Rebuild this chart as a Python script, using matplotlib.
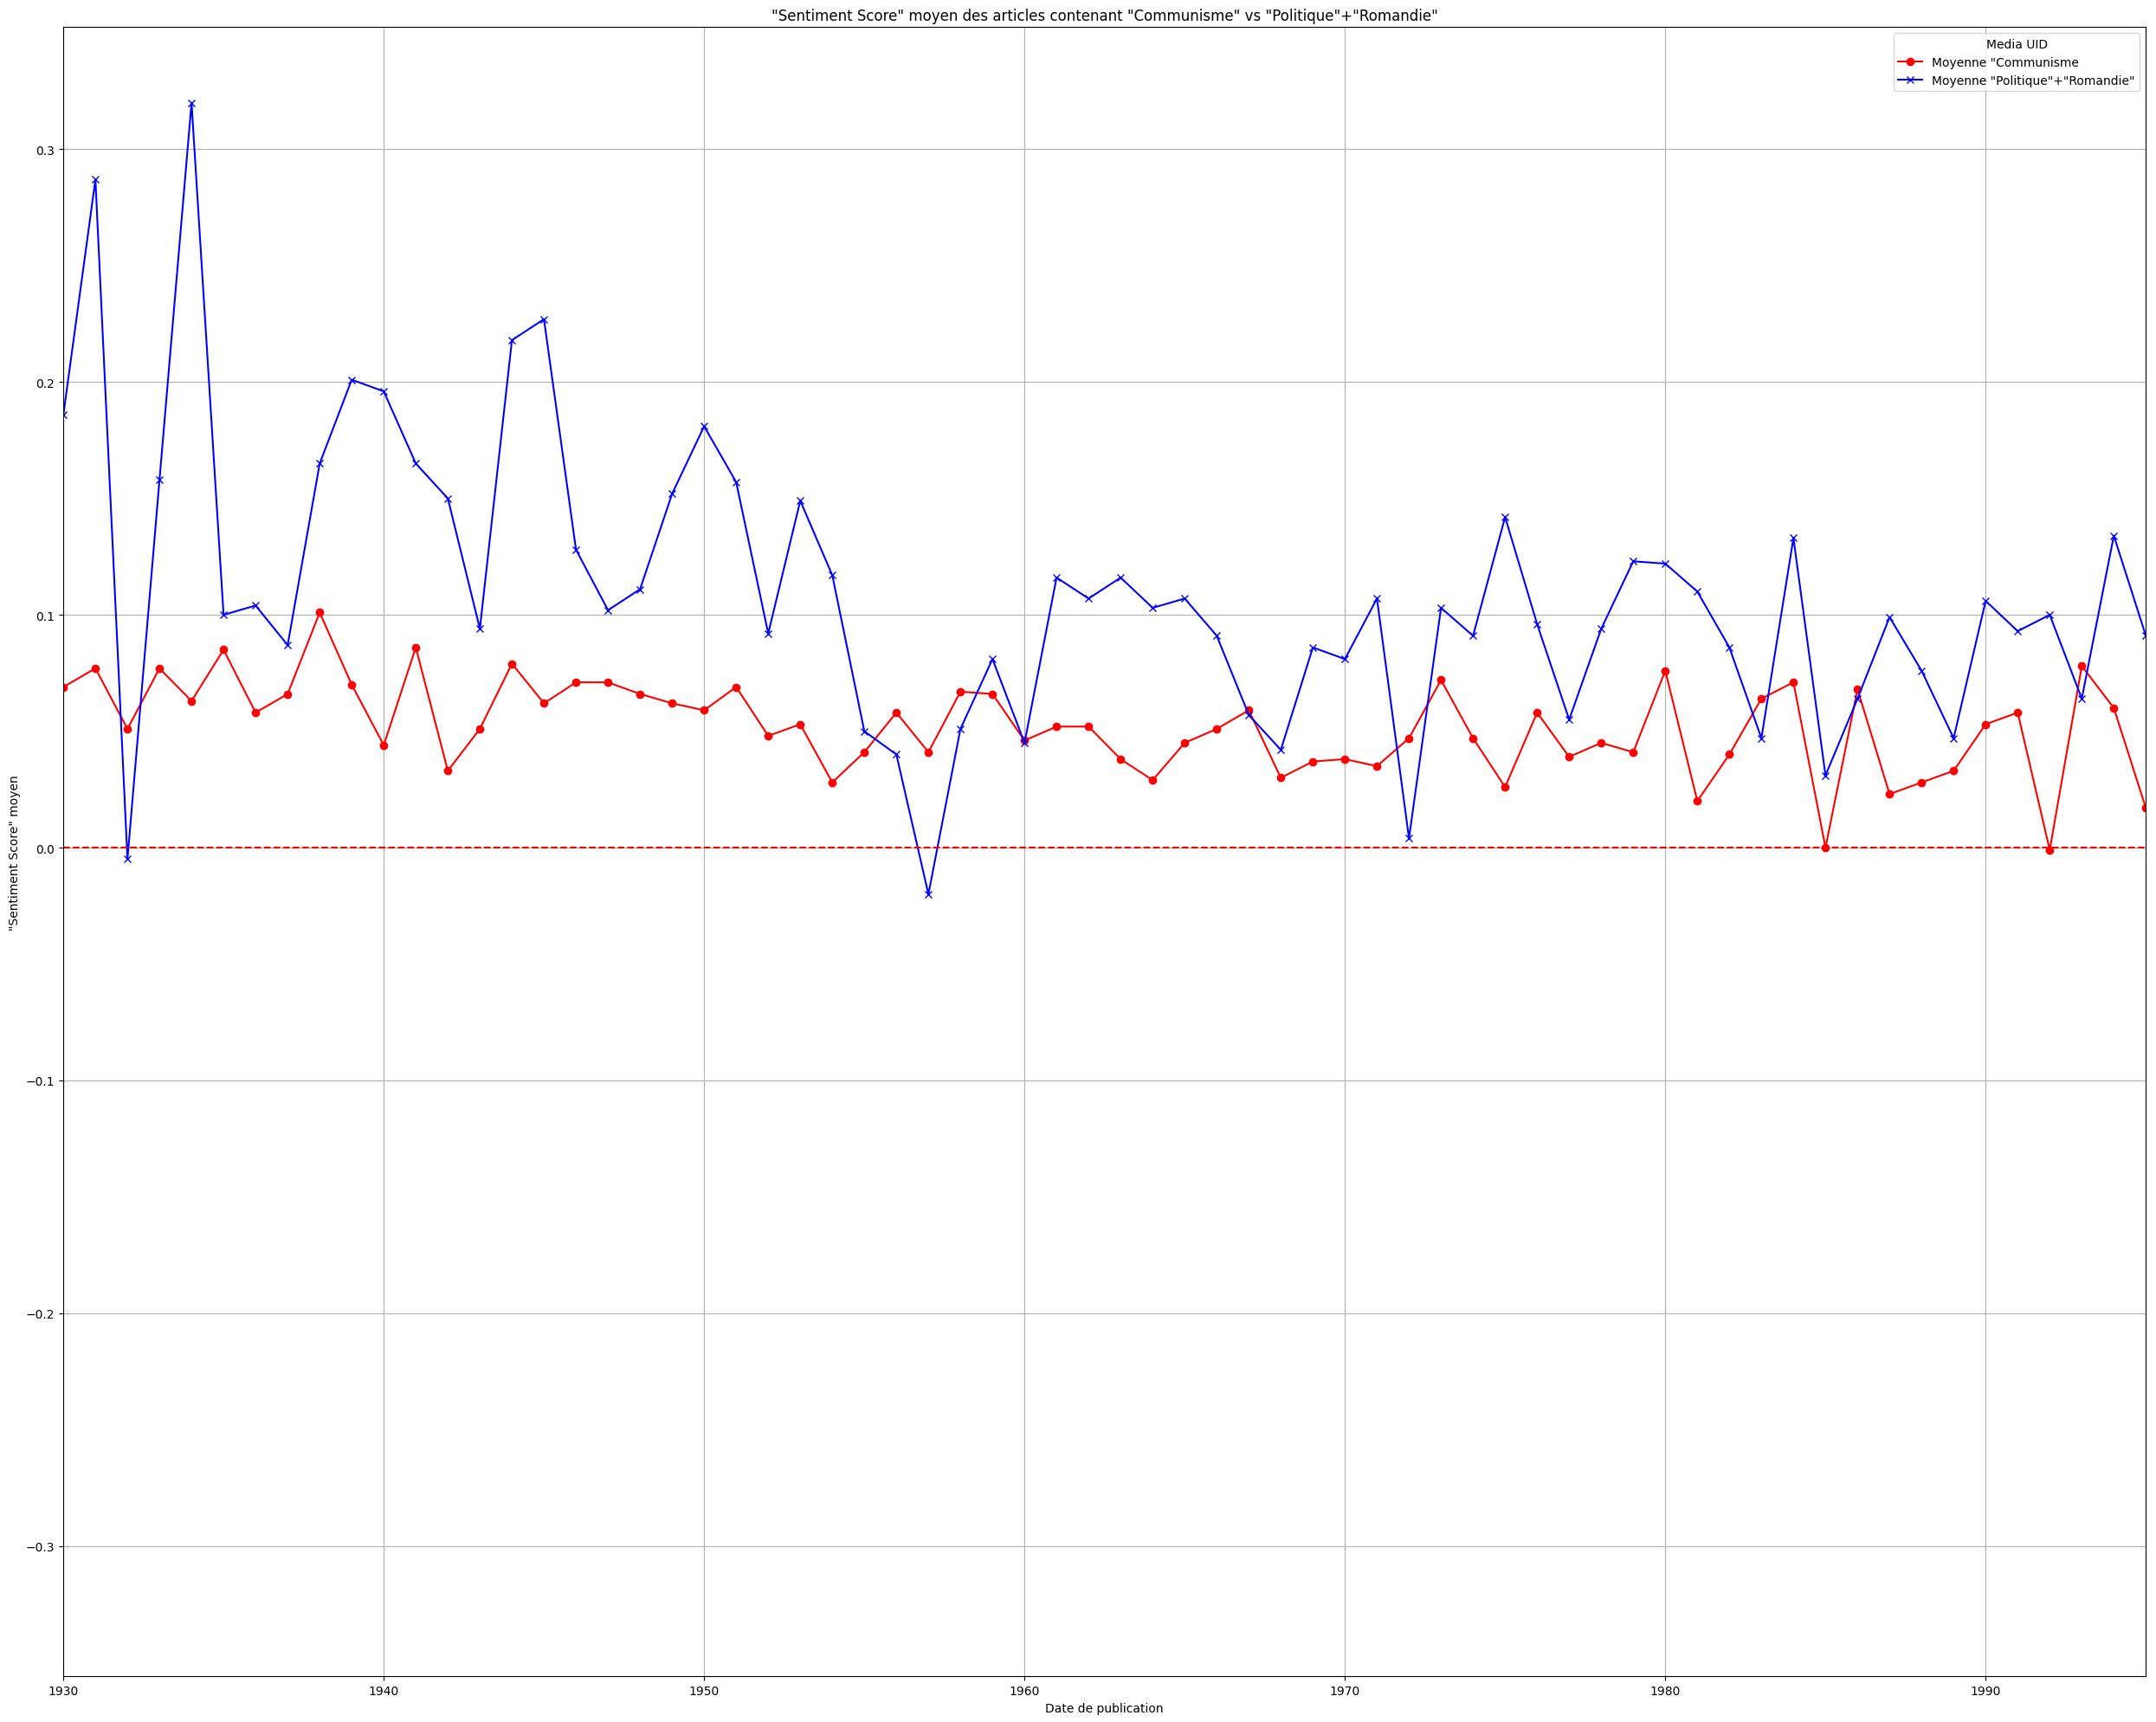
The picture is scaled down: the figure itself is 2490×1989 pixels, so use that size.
import numpy as np
import matplotlib
matplotlib.use('Agg')
import matplotlib.pyplot as plt

years = np.arange(1930, 1996)

# moyenne "Communisme"
communisme = [0.069, 0.077, 0.051, 0.077, 0.063, 0.085, 0.058, 0.066, 0.101, 0.070,
              0.044, 0.086, 0.033, 0.051, 0.079, 0.062, 0.071, 0.071, 0.066, 0.062,
              0.059, 0.069, 0.048, 0.053, 0.028, 0.041, 0.058, 0.041, 0.067, 0.066,
              0.046, 0.052, 0.052, 0.038, 0.029, 0.045, 0.051, 0.059, 0.030, 0.037,
              0.038, 0.035, 0.047, 0.072, 0.047, 0.026, 0.058, 0.039, 0.045, 0.041,
              0.076, 0.020, 0.040, 0.064, 0.071, 0.000, 0.068, 0.023, 0.028, 0.033,
              0.053, 0.058, -0.001, 0.078, 0.060, 0.017]

# moyenne "Politique"+"Romandie"
politique = [0.186, 0.287, -0.005, 0.158, 0.320, 0.100, 0.104, 0.087, 0.165, 0.201,
             0.196, 0.165, 0.150, 0.094, 0.218, 0.227, 0.128, 0.102, 0.111, 0.152,
             0.181, 0.157, 0.092, 0.149, 0.117, 0.050, 0.040, -0.020, 0.051, 0.081,
             0.045, 0.116, 0.107, 0.116, 0.103, 0.107, 0.091, 0.057, 0.042, 0.086,
             0.081, 0.107, 0.004, 0.103, 0.091, 0.142, 0.096, 0.055, 0.094, 0.123,
             0.122, 0.110, 0.086, 0.047, 0.133, 0.031, 0.064, 0.099, 0.076, 0.047,
             0.106, 0.093, 0.100, 0.064, 0.134, 0.091]

fig, ax = plt.subplots(figsize=(24.9, 19.9), dpi=100)
fig.subplots_adjust(left=0.0294, right=0.9953, top=0.9838, bottom=0.0265)

ax.plot(years, communisme, color='red', marker='o', label='Moyenne "Communisme')
ax.plot(years, politique, color='blue', marker='x', label='Moyenne "Politique"+"Romandie"')
ax.axhline(0, color='red', linestyle='--')

ax.set_ylim(-0.356, 0.3525)
ax.set_xlim(1930, 1995)
ax.set_xticks(range(1930, 1991, 10))

ax.set_title('"Sentiment Score" moyen des articles contenant "Communisme" vs "Politique"+"Romandie"')
ax.set_xlabel('Date de publication')
ax.set_ylabel('"Sentiment Score" moyen')
ax.legend(title='Media UID', loc='upper right')
ax.grid(True)

fig.savefig('out.png')
